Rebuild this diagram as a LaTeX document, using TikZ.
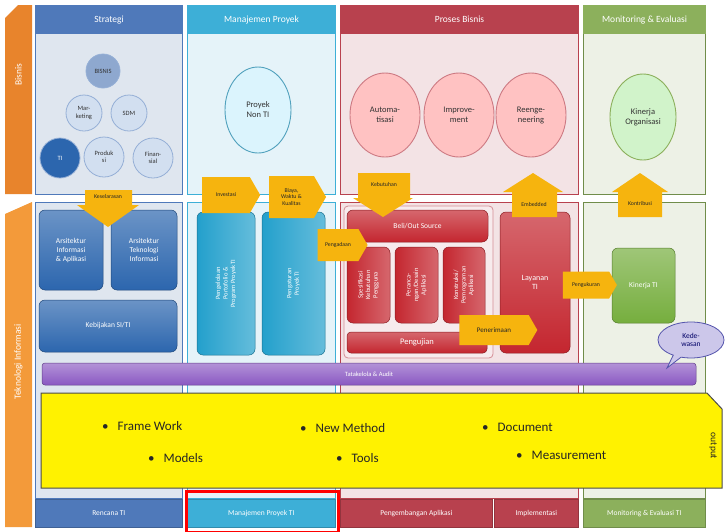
\documentclass[tikz,border=0pt]{standalone}
\usepackage{fontspec}
\setmainfont{Carlito}
\usetikzlibrary{shapes.geometric,shapes.symbols,shapes.callouts,positioning}

\definecolor{strblue}{HTML}{4F79BA}
\definecolor{strpanel}{HTML}{DFE6EF}
\definecolor{blkblue}{HTML}{2C66AE}
\definecolor{bubfill}{HTML}{D2DFF0}
\definecolor{bisnisfill}{HTML}{8EA8CF}
\definecolor{mpcyan}{HTML}{3DAFD7}
\definecolor{mppanel}{HTML}{E5F3F9}
\definecolor{blkcyan}{HTML}{23A0CC}
\definecolor{pbred}{HTML}{B8414E}
\definecolor{pbpanel}{HTML}{F3E3E5}
\definecolor{blkred}{HTML}{C4262F}
\definecolor{megreen}{HTML}{8CB05C}
\definecolor{mepanel}{HTML}{EDF1E6}
\definecolor{blkgreen}{HTML}{76AE3E}
\definecolor{bisorange}{HTML}{E8842C}
\definecolor{tiorange}{HTML}{F39A3A}
\definecolor{gold}{HTML}{F6B40E}
\definecolor{purplebar}{HTML}{8A58C2}
\definecolor{lavender}{HTML}{CCC7EA}

\begin{document}
\begin{tikzpicture}[x=1pt,y=-1pt,
    every node/.style={align=center,inner sep=1pt},
    panel/.style={draw,line width=1.1pt,anchor=north west,inner sep=0pt},
    head/.style={panel,text=white,font=\fontsize{9.5}{11}\selectfont,minimum height=28pt},
    foot/.style={panel,line width=0.6pt,text=white,font=\fontsize{7.5}{9}\selectfont,minimum height=28pt},
    side/.style={rotate=90,text=white,font=\fontsize{9.5}{11}\selectfont},
    bubble/.style={circle,draw=strblue!60,line width=0.8pt,fill=bubfill,inner sep=0pt,text=black!80,font=\fontsize{6.5}{7.5}\selectfont},
    oval/.style={ellipse,line width=0.9pt,inner sep=0pt,text=black!80,font=\fontsize{8.5}{10}\selectfont},
    block/.style={rectangle,rounded corners=6pt,draw=#1!70!black,line width=0.5pt,top color=#1!70!white,bottom color=#1,text=white,font=\fontsize{7.5}{9}\selectfont},
    vblock/.style={rectangle,rotate=90,rounded corners=6pt,draw=#1!70!black,line width=0.5pt,right color=#1!70!white,left color=#1,text=white,font=\fontsize{6.5}{7.5}\selectfont},
    tag/.style={text=black!85,font=\fontsize{5.8}{6.8}\selectfont},
    sign/.style={signal,signal to=east,signal pointer angle=120,fill=gold,inner sep=0pt,text=black!85,font=\fontsize{5.8}{6.8}\selectfont},
    item/.style={anchor=west,text=black!85,font=\fontsize{13}{15}\selectfont}]

\useasboundingbox[fill=white] (0,0) rectangle (725,531);

\fill[bisorange] (5,18) -- (18,5) -- (32,5) -- (32,194) -- (5,194) -- cycle;
\node (lblbisnis) [side] at (18.5,75) {Bisnis};
\fill[tiorange] (5,214) -- (32,202) -- (32,527) -- (5,527) -- cycle;
\node (lblti) [side] at (18.5,362) {Teknologi Informasi};

% bagian atas
\node (strbody) [panel,draw=strblue,fill=strpanel,minimum width=147pt,minimum height=189pt] at (35,5) {};
\node (strhead) [head,draw=strblue,fill=strblue,minimum width=147pt] at (35,5) {Strategi};
\node (mpbody) [panel,draw=mpcyan,fill=mppanel,minimum width=148pt,minimum height=189pt] at (187,5) {};
\node (mphead) [head,draw=mpcyan,fill=mpcyan,minimum width=148pt] at (187,5) {Manajemen Proyek};
\node (pbbody) [panel,draw=pbred,fill=pbpanel,minimum width=238pt,minimum height=189pt] at (340,5) {};
\node (pbhead) [head,draw=pbred,fill=pbred,minimum width=238pt] at (340,5) {Proses Bisnis};
\node (mebody) [panel,draw=megreen!80!black,fill=mepanel,minimum width=122pt,minimum height=189pt] at (583,5) {};
\node (mehead) [head,draw=megreen,fill=megreen,minimum width=122pt] at (583,5) {Monitoring \& Evaluasi};

% bagian bawah
\node (strlow) [panel,draw=strblue,fill=strpanel,minimum width=147pt,minimum height=296pt] at (35,202) {};
\node (mplow) [panel,draw=mpcyan,fill=mppanel,minimum width=148pt,minimum height=296pt] at (187,202) {};
\node (pblow) [panel,draw=pbred,fill=pbpanel,minimum width=238pt,minimum height=296pt] at (340,202) {};
\node (melow) [panel,draw=megreen!80!black,fill=mepanel,minimum width=122pt,minimum height=296pt] at (583,202) {};

\node (bisnis) [bubble,fill=bisnisfill,minimum size=34pt] at (103,71) {BISNIS};
\node (marketing) [bubble,minimum size=36pt] at (84,113) {Mar-\\keting};
\node (sdm) [bubble,minimum size=36pt] at (129,113) {SDM};
\node (ti) [bubble,fill=blkblue,text=white,minimum size=40pt] at (60,158) {TI};
\node (produksi) [bubble,minimum size=40pt] at (104,157) {Produk\\si};
\node (finansial) [bubble,minimum size=40pt] at (153,158) {Finan-\\sial};

\node (nonti) [oval,draw=mpcyan!70!gray,fill=cyan!14,minimum width=66pt,minimum height=86pt] at (258,110) {Proyek\\Non TI};

\node (automasi) [oval,draw=pbred!70,fill=red!24,minimum width=70pt,minimum height=84pt] at (385,115) {Automa-\\tisasi};
\node (improve) [oval,draw=pbred!70,fill=red!24,minimum width=70pt,minimum height=84pt] at (459,115) {Improve-\\ment};
\node (reengine) [oval,draw=pbred!70,fill=red!24,minimum width=70pt,minimum height=84pt] at (531,115) {Reenge-\\neering};

\node (kinorg) [oval,draw=megreen,fill=green!12!mepanel,minimum width=66pt,minimum height=86pt] at (643,117) {Kinerja\\Organisasi};

\node (arsinfo) [block=blkblue,minimum width=64pt,minimum height=80pt] at (71,250) {Arsitektur\\Informasi\\\& Aplikasi};
\node (arstek) [block=blkblue,minimum width=66pt,minimum height=80pt] at (144,250) {Arsitektur\\Teknologi\\Informasi};
\node (kebijakan) [block=blkblue,minimum width=138pt,minimum height=52pt] at (108,326) {Kebijakan SI/TI};

\node (pengelolaan) [vblock=blkcyan,minimum width=143pt,minimum height=58pt] at (226,283.5) {Pengelolaan\\Portofolio \&\\Program Proyek TI};
\node (pengaturan) [vblock=blkcyan,minimum width=143pt,minimum height=63pt] at (293.5,283.5) {Pengaturan\\Proyek TI};

\node (pbgroup) [rectangle,rounded corners=4pt,draw=pbred!60,fill=pbpanel!70!white,line width=0.8pt,minimum width=149pt,minimum height=152pt] at (418.5,282) {};
\node (beli) [block=blkred,minimum width=141pt,minimum height=32pt] at (417.5,226) {Beli/Out Source};
\node (spek) [vblock=blkred,minimum width=76pt,minimum height=43pt] at (368.5,285) {Spesifikasi\\Kebutuhan\\Pengguna};
\node (rancang) [vblock=blkred,minimum width=76pt,minimum height=43pt] at (416.5,285) {Peranca-\\ngan/Desain\\Aplikasi};
\node (konstruksi) [vblock=blkred,minimum width=76pt,minimum height=42pt] at (464,285) {Konstruksi/\\Pemrograman\\Aplikasi};
\node (pengujian) [block=blkred,rounded corners=4pt,minimum width=140pt,minimum height=21pt,font=\fontsize{8.5}{9.5}\selectfont] at (417,342.5) {Pengujian};
\node (layanan) [block=blkred,minimum width=70pt,minimum height=141pt,font=\fontsize{8}{9.5}\selectfont] at (535,282.5) {Layanan\\TI};

\node (kinti) [block=blkgreen,minimum width=63pt,minimum height=75pt] at (643.5,285.5) {Kinerja TI};

% panah
\fill[gold] (85,190) -- (132,190) -- (132,205) -- (139,205) -- (108,227) -- (77,205) -- (85,205) -- cycle;
\node (keselarasan) [tag] at (108,197) {Keselarasan};
\fill[gold] (358,173) -- (410,173) -- (410,198) -- (413,198) -- (383,217) -- (353,198) -- (358,198) -- cycle;
\node (kebutuhan) [tag] at (384,185) {Kebutuhan};
\fill[gold] (533,173) -- (563,192) -- (557,192) -- (557,217) -- (512,217) -- (512,192) -- (503,192) -- cycle;
\node (embedded) [tag] at (534,204) {Embedded};
\fill[gold] (640,173) -- (668,192) -- (662,192) -- (662,217) -- (618,217) -- (618,192) -- (612,192) -- cycle;
\node (kontribusi) [tag] at (640,204) {Kontribusi};

\node (investasi) [sign,minimum width=58pt,minimum height=36pt] at (226,195) {Investasi};
\node (biaya) [sign,minimum width=57pt,minimum height=42pt] at (291.5,197) {Biaya,\\Waktu \&\\Kualitas};
\node (pengadaan) [sign,minimum width=50pt,minimum height=32pt] at (338,245) {Pengadaan};
\node (penerimaan) [sign,minimum width=78pt,minimum height=30pt,font=\fontsize{7}{8}\selectfont] at (494,330) {Penerimaan};
\node (pengukuran) [sign,minimum width=54pt,minimum height=27pt] at (586,285) {Pengukuran};

\node (tatakelola) [rectangle,rounded corners=3pt,draw=purplebar!70!black,line width=0.5pt,top color=purplebar!65!white,bottom color=purplebar,text=white,font=\fontsize{6.5}{7.5}\selectfont,minimum width=654pt,minimum height=22pt] at (369,374) {Tatakelola \& Audit};

\node (kedewasan) [ellipse callout,callout absolute pointer={(667,368)},draw=blue!35!gray,line width=0.8pt,fill=lavender,text=blue!40!black,font=\fontsize{7.5}{8.5}\selectfont,minimum width=66pt,minimum height=36pt,inner sep=0pt] at (691,340) {Kede-\\wasan};

% output
\filldraw[draw=gray!60!black,fill=yellow,line width=1pt] (41,393) -- (707,393) -- (722,409) -- (722,488) -- (41,488) -- cycle;
\node (framework) [item] at (101,426) {\textbullet\hspace{9pt}Frame Work};
\node (newmethod) [item] at (299,428) {\textbullet\hspace{9pt}New Method};
\node (document) [item] at (481,427) {\textbullet\hspace{9pt}Document};
\node (models) [item] at (147,458) {\textbullet\hspace{9pt}Models};
\node (tools) [item] at (335,458) {\textbullet\hspace{9pt}Tools};
\node (measurement) [item] at (515,455) {\textbullet\hspace{9pt}Measurement};
\node (output) [rotate=-90,text=black!85,font=\fontsize{9.5}{11}\selectfont] at (713,446) {output};

% label bawah
\node (rencana) [foot,draw=strblue!80!black,fill=strblue] at (35,499) [minimum width=147pt] {Rencana TI};
\node (mpti) [foot,draw=mpcyan!80!black,fill=mpcyan] at (187,499) [minimum width=148pt] {Manajemen Proyek TI};
\node (pengembangan) [foot,draw=pbred!80!black,fill=pbred] at (340,499) [minimum width=152pt] {Pengembangan Aplikasi};
\node (implementasi) [foot,draw=pbred!80!black,fill=pbred] at (494,499) [minimum width=84pt] {Implementasi};
\node (meti) [foot,draw=megreen!80!black,fill=megreen] at (583,499) [minimum width=122pt] {Monitoring \& Evaluasi TI};

\node (sorot) [draw=red,line width=3pt,anchor=north west,minimum width=152pt,minimum height=41pt] at (184.5,489.5) {};
\end{tikzpicture}
\end{document}
